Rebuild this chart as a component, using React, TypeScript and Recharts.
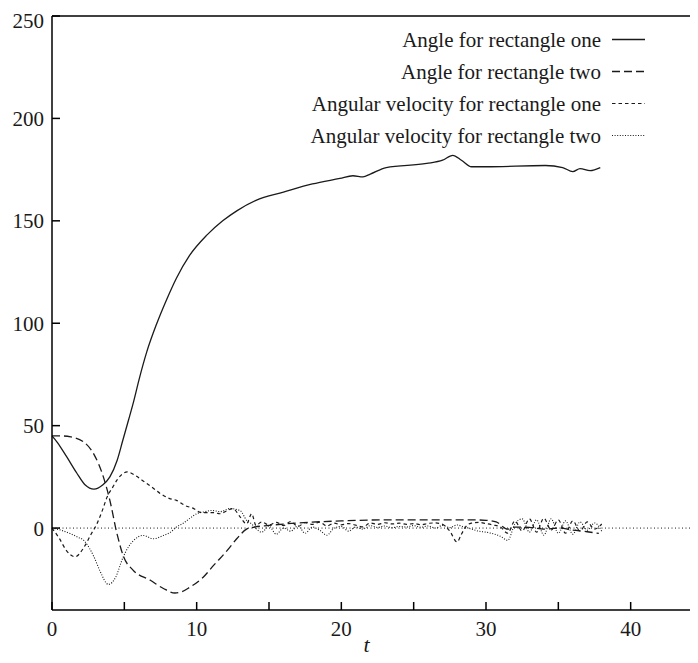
import { LineChart, Line, XAxis, YAxis, ReferenceLine, Legend } from "recharts";

const FONT = "Liberation Serif, Times New Roman, Times, serif";
const INK = "#1a1a1a";

const angleOneT = [0, 0.35, 1.0, 1.7, 2.3, 2.9, 3.5, 4.0, 4.5, 4.9, 5.3, 5.65, 6.0, 6.55, 7.25, 7.95, 8.6, 9.5, 10.7, 11.8, 12.8, 14.1, 16, 18, 19.9, 20.8, 21.5, 22, 23.1, 25.9, 27, 27.7, 28.3, 29, 30, 34.1, 35.3, 36, 36.5, 37.2, 37.9];
const angleOne = [45, 42, 35, 27, 21, 19, 21, 25, 33, 43, 53, 62, 72, 86, 100, 112, 122, 133, 143, 150, 155, 160, 164, 168, 170.7, 172, 171.5, 172.8, 176, 178, 179.6, 182, 179.6, 176.4, 176.4, 177, 176, 174, 175.5, 174.5, 176];

const angleTwoT = [0, 0.6, 1.3, 2.2, 2.9, 3.55, 4.0, 4.5, 4.95, 5.6, 6.8, 7.7, 8.5, 9.0, 9.5, 10.45, 11.2, 12.1, 12.8, 13.45, 14, 15, 17, 20, 23, 26, 29, 30, 30.7, 31.5, 32, 33, 34, 35, 36, 37, 37.8];
const angleTwo = [45, 45, 44.5, 42, 36, 25, 13.5, -3, -14, -20.5, -25.5, -29.5, -31.7, -31, -29, -24, -18, -11, -5, -0.5, 0.5, 1.3, 2.5, 3.5, 4, 4, 4, 3.8, 3, -0.5, 0.5, 0.3, -0.5, 0, -1, -1.8, -2.6];

const velOneT = [0, 0.5, 1.0, 1.6, 2.2, 2.7, 3.1, 3.5, 3.8, 4.2, 4.5, 5.2, 5.8, 6.3, 6.9, 7.5, 8.1, 8.6, 9.2, 9.8, 10.2, 10.7, 11.2, 11.6, 12.1, 12.5, 13.0, 13.45, 13.8, 14.1, 14.5, 15, 15.5, 16, 16.5, 17, 17.5, 18, 18.5, 19, 19.5, 20, 20.5, 21, 21.5, 22, 22.5, 23, 23.5, 24, 24.5, 25, 25.5, 26, 26.5, 27, 27.5, 28, 28.3, 28.7, 29, 29.5, 30, 30.5, 31, 31.5, 32, 32.5, 33, 33.5, 34, 34.5, 35, 35.5, 36, 36.5, 37, 37.5, 38];
const velOne = [0, -5, -11, -14, -9.5, -3, 2, 9, 15, 20, 23.5, 27.4, 25.5, 23, 20, 16.8, 14.5, 13.5, 11, 9.5, 7.8, 7.5, 7.5, 7, 8.5, 9.5, 5.5, 2, 7, 1.3, 3, 1.5, 2.8, 1.2, 3.2, 0.8, 2.6, 1.8, 2.9, 1, 2.4, 1.6, 2.2, 1.4, 0.6, 2.5, 1.8, 2.6, 2, 2.4, 1.8, 2.2, 1.6, 2.3, 2.5, 1.8, -1.5, -6.8, -3, 1.5, 2.4, 2.8, 2.2, 1.5, 0.5, -2.5, 3.5, -1.5, 4.5, -2, 4.8, -1, 4, -2.5, 3.5, -1.5, 3, -0.5, 2];

const velTwoT = [0, 0.6, 1.26, 1.8, 2.2, 2.6, 2.9, 3.3, 3.9, 4.4, 4.9, 5.3, 5.65, 6.3, 7.0, 7.7, 8.2, 8.6, 9.1, 9.5, 10.0, 10.45, 11.1, 11.6, 12.3, 13, 13.45, 13.8, 14, 14.5, 15, 15.5, 16, 16.5, 17, 17.5, 18, 18.5, 19, 19.5, 20, 20.5, 21, 21.5, 22, 22.5, 23, 23.5, 24, 24.5, 25, 25.5, 26, 26.5, 27, 27.5, 28, 28.5, 29, 29.5, 30, 30.5, 31, 31.5, 32, 32.5, 33, 33.5, 34, 34.5, 35, 35.5, 36, 36.5, 37, 37.5, 38];
const velTwo = [0, -1, -2.7, -4.5, -6, -10, -14, -20.7, -27.5, -24, -14.5, -9, -6, -3.6, -5.2, -3.6, -2, 0.5, 2.5, 4.6, 7, 7.8, 8.6, 8, 9.5, 8.6, 3.8, 2, 0.5, -2, 1, -3, 0, -1.5, 1, -2.5, 0.5, -1, -3.5, 0, 0.8, -1.5, 0.5, -0.5, 1.2, 0.3, 1, 0.2, 0.8, 0.5, 1.2, 0.4, 1, 0, 1.3, 0.2, 1.5, 0.5, -0.5, -1.5, -2, -2.8, -4, -6, 2, 4.5, -2, 4, -3.5, 4.5, -2.5, 3.5, -3, 3, -1, 2.5, -1.5];

const yTicks = [0, 50, 100, 150, 200, 250];
const xTicks = [0, 5, 10, 15, 20, 25, 30, 35, 40, 45];

const toRows = (t: number[], v: number[]) => t.map((x, i) => ({ t: x, v: v[i] }));

const series = [
  { name: "Angle for rectangle one", rows: toRows(angleOneT, angleOne), dash: undefined as string | undefined, width: 1.3 },
  { name: "Angle for rectangle two", rows: toRows(angleTwoT, angleTwo), dash: "8 4", width: 1.3 },
  { name: "Angular velocity for rectangle one", rows: toRows(velOneT, velOne), dash: "3.5 3", width: 1.2 },
  { name: "Angular velocity for rectangle two", rows: toRows(velTwoT, velTwo), dash: "1 1.6", width: 1.1 },
];

const tickStyle = { fontFamily: FONT, fontSize: 21, fill: INK };

const LegendBox = () => (
  <svg width={700} height={150} style={{ display: "block" }}>
    {series.map((s, i) => {
      const cy = 31.5 + i * 32;
      return (
        <g key={s.name}>
          <text x={593} y={cy} dy="0.35em" textAnchor="end" style={{ fontFamily: FONT, fontSize: 21 }} fill={INK}>
            {s.name}
          </text>
          <line x1={604} x2={637} y1={cy} y2={cy} stroke={INK} strokeWidth={s.width} strokeDasharray={s.dash} />
        </g>
      );
    })}
  </svg>
);

export default function App() {
  return (
    <div style={{ width: 690, height: 655, overflow: "hidden", fontFamily: FONT }}>
      <LineChart width={712} height={655} margin={{ top: 7, right: 16, bottom: 8, left: 0 }} style={{ fontFamily: FONT }}>
        <XAxis
          dataKey="t"
          type="number"
          domain={[0, 45]}
          ticks={xTicks}
          allowDuplicatedCategory={false}
          tickFormatter={(v: number) => (v % 10 === 0 && v < 45 ? String(v) : "")}
          tickSize={-8}
          tickMargin={19}
          height={45}
          axisLine={{ stroke: "#000", strokeWidth: 1.5 }}
          tickLine={{ stroke: "#000", strokeWidth: 1.5 }}
          tick={tickStyle}
          label={{ value: "t", position: "insideBottom", offset: 3, dx: -11, style: { fontFamily: FONT, fontSize: 22, fontStyle: "italic", fill: INK } }}
        />
        <XAxis
          xAxisId="top"
          orientation="top"
          dataKey="t"
          type="number"
          domain={[0, 45]}
          ticks={xTicks}
          tickFormatter={() => ""}
          tickSize={-8}
          height={1}
          axisLine={{ stroke: "#000", strokeWidth: 1.5 }}
          tickLine={{ stroke: "#000", strokeWidth: 1.5 }}
        />
        <YAxis
          type="number"
          domain={[-40, 250]}
          ticks={yTicks}
          tickSize={-8}
          tickMargin={16}
          width={44}
          axisLine={{ stroke: "#000", strokeWidth: 1.5 }}
          tickLine={{ stroke: "#000", strokeWidth: 1.5 }}
          tick={tickStyle}
        />
        <YAxis
          yAxisId="right"
          orientation="right"
          type="number"
          domain={[-40, 250]}
          ticks={yTicks}
          tickFormatter={() => ""}
          tickSize={-8}
          width={1}
          axisLine={{ stroke: "#000", strokeWidth: 1.5 }}
          tickLine={{ stroke: "#000", strokeWidth: 1.5 }}
        />
        <ReferenceLine y={0} stroke={INK} strokeWidth={1} strokeDasharray="1 2.5" ifOverflow="hidden" />
        {series.map((s) => (
          <Line
            key={s.name}
            data={s.rows}
            dataKey="v"
            name={s.name}
            type="monotone"
            stroke={INK}
            strokeWidth={s.width}
            strokeDasharray={s.dash}
            dot={false}
            activeDot={false}
            isAnimationActive={false}
          />
        ))}
        <Legend
          verticalAlign="middle"
          align="center"
          layout="horizontal"
          wrapperStyle={{ position: "absolute", top: 0, left: 0, width: 700, height: 150 }}
          content={() => <LegendBox />}
        />
      </LineChart>
    </div>
  );
}
